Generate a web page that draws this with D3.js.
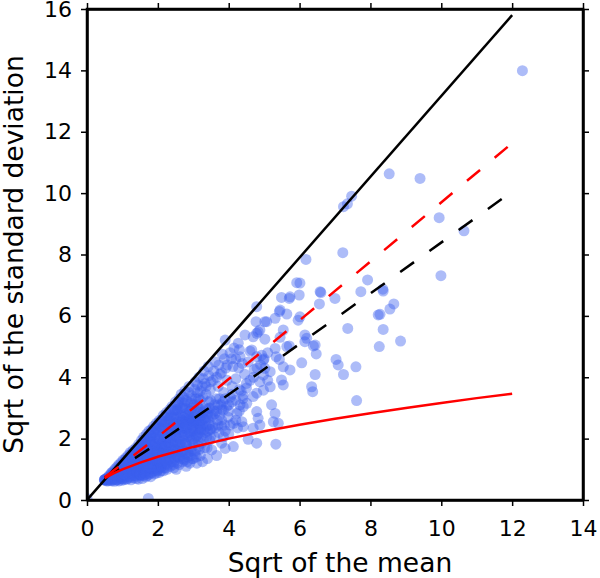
<!DOCTYPE html>
<html>
<head>
<meta charset="utf-8">
<script src="https://cdn.jsdelivr.net/npm/d3@7"></script>
<style>
	body { margin: 0; background: #fff; }
	text { font-family: "DejaVu Sans", sans-serif; fill: #000; }
	.axis path, .axis line { stroke: #000; }
	.axis path { stroke-width: 2.5; }
	.axis line { stroke-width: 1.5; }
	.axis text { font-size: 22px; }
	.label { font-size: 26.5px; }
</style>
</head>
<body>
<script>
/* Data (sqrt of mean, sqrt of std dev) */

var X_TICKS = [0, 2, 4, 6, 8, 10, 12, 14],
	Y_TICKS = [0, 2, 4, 6, 8, 10, 12, 14, 16];

var X_LABEL = "Sqrt of the mean",
	Y_LABEL = "Sqrt of the standard deviation";

var upperLine  = [[0, 0], [12, 15.8]];
var redDashed  = [[0.5, 0.75], [1, 1.17], [2, 2.06], [4, 3.94], [8, 7.77], [12, 11.63]];
var blackDashed= [[0.5, 0.73], [1, 1.1], [2, 1.85], [4, 3.44], [8, 6.73], [12, 10.05]];
var redCurve   = [[0.5, 0.71], [0.75, 0.87], [1, 1.0], [1.5, 1.22], [2, 1.41], [3, 1.73], [4, 2.0],
				  [5, 2.24], [6, 2.45], [7, 2.65], [8, 2.83], [9, 3.0], [10, 3.16], [11, 3.32], [12, 3.46]];

var points = [
	[0,0.05],[1.73,0.05],
	[0.5,0.66],[0.5,0.66],[0.51,0.67],[0.5,0.65],[0.52,0.66],[0.49,0.66],
	[0.55,0.62],[0.56,0.72],[0.58,0.68],[0.6,0.75],[0.6,0.62],[0.63,0.8],[0.65,0.66],[0.66,0.72],[0.68,0.86],
	[0.7,0.62],[0.7,0.9],[0.72,0.74],[0.74,0.66],[0.75,0.95],[0.76,0.82],[0.78,0.61],[0.8,0.72],[0.8,1.02],
	[0.82,0.9],[0.84,0.65],[0.85,1.08],[0.86,0.78],[0.88,0.95],[0.9,0.62],[0.9,1.15],[0.92,0.85],[0.94,0.7],
	[0.95,1.0],[0.96,1.22],[0.98,0.64],[0.99,0.9],
	[0.57,0.64],[0.59,0.7],[0.62,0.68],[0.64,0.74],[0.67,0.64],[0.69,0.78],[0.71,0.7],[0.73,0.84],[0.77,0.7],
	[0.79,0.88],[0.81,0.66],[0.83,0.78],[0.87,0.68],[0.89,0.82],[0.91,1.05],[0.93,0.75],[0.97,0.84],[0.97,1.1],
	[0.99,0.7],[0.93,0.95],
	[1.0,0.76],[1.01,1.1],[1.02,1.3],[1.04,0.66],[1.05,0.95],[1.06,1.2],[1.08,0.8],[1.1,1.38],[1.1,1.02],
	[1.12,0.68],[1.13,0.9],[1.15,1.25],[1.16,1.45],[1.18,0.75],[1.2,1.1],[1.2,0.95],[1.22,1.55],[1.24,0.66],
	[1.25,1.3],[1.26,0.85],[1.28,1.15],[1.3,1.62],[1.3,1.0],[1.32,0.72],[1.34,1.4],[1.35,1.22],[1.36,0.9],
	[1.38,1.7],[1.4,1.05],[1.4,0.78],[1.42,1.5],[1.44,1.3],[1.45,0.68],[1.46,1.82],[1.48,1.15],[1.48,0.95],[1.5,1.6],
	[1.02,0.85],[1.03,0.7],[1.05,1.05],[1.07,1.3],[1.09,0.9],[1.11,1.15],[1.12,0.78],[1.14,1.05],[1.17,1.35],
	[1.19,0.85],[1.21,1.25],[1.23,1.0],[1.23,0.74],[1.27,1.45],[1.27,0.95],[1.29,1.25],[1.31,0.85],[1.33,1.1],
	[1.33,1.55],[1.37,1.3],[1.37,1.0],[1.39,0.7],[1.41,1.2],[1.41,1.65],[1.43,0.88],[1.45,1.4],[1.47,1.05],
	[1.47,1.7],[1.49,0.8],[1.49,1.3],[1.15,0.7],[1.18,1.02],[1.26,1.1],[1.35,0.8],[1.44,1.02],
	[1.52,0.82],[1.53,1.35],[1.54,1.95],[1.55,1.05],[1.56,0.7],[1.58,1.5],[1.6,1.2],[1.6,2.05],[1.62,0.9],
	[1.63,1.7],[1.65,1.35],[1.66,0.75],[1.68,2.15],[1.7,1.05],[1.7,1.55],[1.72,1.85],[1.74,0.88],[1.75,2.25],
	[1.76,1.25],[1.78,1.65],[1.8,0.76],[1.8,1.45],[1.82,2.3],[1.84,1.0],[1.85,1.9],[1.86,1.3],[1.88,2.4],
	[1.9,0.85],[1.9,1.6],[1.92,1.15],[1.94,2.05],[1.95,1.75],[1.96,2.5],[1.98,0.95],[1.99,1.4],
	[1.51,1.1],[1.52,1.7],[1.54,1.25],[1.55,0.8],[1.57,1.85],[1.57,1.4],[1.59,1.0],[1.61,1.6],[1.61,0.8],
	[1.64,1.2],[1.64,1.95],[1.66,1.45],[1.67,0.95],[1.69,1.75],[1.69,1.25],[1.71,0.8],[1.73,1.4],[1.73,2.05],
	[1.75,1.05],[1.77,1.55],[1.77,0.85],[1.79,1.9],[1.79,1.2],[1.81,1.65],[1.83,0.9],[1.83,2.1],[1.85,1.35],
	[1.87,1.1],[1.87,1.75],[1.89,2.2],[1.91,1.4],[1.91,0.95],[1.93,1.85],[1.93,1.25],[1.95,2.3],[1.97,1.55],
	[1.97,1.05],[1.99,2.0],[1.99,1.7],[1.96,0.88],
	[2.0,1.2],[2.0,2.2],[2.02,1.85],[2.04,0.9],[2.05,2.6],[2.06,1.55],[2.08,1.05],[2.1,2.35],[2.1,1.35],
	[2.12,1.7],[2.14,2.0],[2.15,2.75],[2.16,0.95],[2.18,1.45],[2.2,2.5],[2.2,1.15],[2.22,1.9],[2.24,2.85],
	[2.25,1.6],[2.26,1.0],[2.28,2.2],[2.3,1.3],[2.3,2.6],[2.32,1.75],[2.34,2.95],[2.35,1.1],[2.36,2.1],
	[2.38,1.5],[2.4,2.4],[2.4,3.05],[2.42,1.85],[2.44,1.15],[2.45,2.7],[2.46,1.35],[2.48,2.25],[2.5,3.2],[2.5,1.65],
	[2.01,1.45],[2.03,1.05],[2.03,2.4],[2.05,1.75],[2.07,1.3],[2.07,2.1],[2.09,0.95],[2.11,1.55],[2.11,2.55],
	[2.13,1.2],[2.13,1.85],[2.15,2.3],[2.17,1.05],[2.17,1.65],[2.19,2.05],[2.19,2.7],[2.21,1.35],[2.23,1.75],
	[2.23,1.05],[2.25,2.35],[2.27,1.5],[2.27,2.0],[2.29,1.15],[2.31,2.45],[2.31,1.85],[2.33,1.4],[2.35,2.25],
	[2.37,1.7],[2.37,2.75],[2.39,1.25],[2.41,2.05],[2.41,1.5],[2.43,2.55],[2.45,1.95],[2.45,1.05],[2.47,2.9],
	[2.47,1.75],[2.49,2.4],[2.49,1.4],[2.35,2.55],
	[2.52,1.0],[2.53,2.05],[2.55,2.9],[2.56,1.4],[2.58,2.45],[2.6,1.15],[2.6,3.3],[2.62,1.8],[2.64,2.65],
	[2.65,1.55],[2.66,3.45],[2.68,2.2],[2.7,1.25],[2.7,3.0],[2.72,1.95],[2.74,2.5],[2.75,1.6],[2.76,3.55],
	[2.78,2.8],[2.8,1.1],[2.8,2.3],[2.82,1.75],[2.84,3.2],[2.85,1.4],[2.86,2.6],[2.88,3.7],[2.9,2.05],
	[2.9,1.2],[2.92,2.9],[2.94,1.6],[2.95,3.4],[2.96,2.35],[2.98,1.85],[3.0,2.7],
	[2.51,2.2],[2.51,1.5],[2.53,2.7],[2.55,1.2],[2.55,1.85],[2.57,2.3],[2.57,3.1],[2.59,1.65],[2.61,2.55],
	[2.61,2.0],[2.63,1.35],[2.63,2.85],[2.65,2.3],[2.67,1.75],[2.67,2.6],[2.69,1.45],[2.69,3.2],[2.71,2.1],
	[2.73,2.7],[2.73,1.35],[2.75,2.35],[2.77,1.85],[2.77,3.0],[2.79,2.55],[2.79,1.5],[2.81,2.05],[2.83,2.75],
	[2.83,1.25],[2.85,2.2],[2.87,1.65],[2.87,2.95],[2.89,2.45],[2.91,1.45],[2.91,2.65],[2.93,2.15],[2.93,3.15],
	[2.95,1.95],[2.97,2.55],[2.97,1.35],[2.99,2.25],
	[3.0,1.35],[3.02,3.1],[3.04,2.2],[3.05,3.85],[3.06,1.6],[3.08,2.5],[3.1,1.2],[3.1,2.9],[3.12,3.5],
	[3.14,1.9],[3.15,2.3],[3.16,4.0],[3.18,2.7],[3.2,1.45],[3.2,3.25],[3.22,2.05],[3.24,2.55],[3.25,3.7],
	[3.26,1.25],[3.28,2.85],[3.3,2.3],[3.3,4.2],[3.32,1.7],[3.34,3.0],[3.35,2.6],[3.36,3.45],[3.38,2.05],
	[3.4,1.35],[3.4,2.8],[3.42,4.35],[3.44,3.2],[3.45,2.45],[3.46,1.95],[3.48,3.6],[3.5,2.7],
	[3.01,2.45],[3.03,1.85],[3.05,2.75],[3.07,2.05],[3.07,3.3],[3.09,1.4],[3.11,2.6],[3.13,2.15],[3.13,3.05],
	[3.17,2.45],[3.17,1.65],[3.19,2.95],[3.21,2.3],[3.23,1.85],[3.23,2.75],[3.27,2.45],[3.27,3.35],[3.29,2.0],
	[3.31,2.65],[3.33,2.2],[3.33,3.8],[3.37,2.4],[3.37,2.95],[3.39,1.7],[3.41,2.25],[3.43,2.6],[3.45,3.0],
	[3.47,2.3],[3.49,2.05],[3.49,3.25],
	[1.05,0.85],[1.1,1.2],[1.15,0.95],[1.2,1.4],[1.25,1.05],[1.3,0.8],[1.3,1.35],[1.35,1.55],[1.4,0.95],
	[1.4,1.4],[1.45,1.15],[1.5,0.85],[1.5,1.45],[1.55,1.6],[1.6,1.05],[1.6,1.4],[1.65,0.85],[1.65,1.8],
	[1.7,1.2],[1.7,1.4],[1.75,1.6],[1.8,1.05],[1.8,2.0],[1.85,1.2],[1.85,1.5],[1.9,1.8],[1.9,1.05],
	[1.95,1.3],[2.0,1.6],[2.0,1.0],[2.05,2.0],[2.05,1.25],[2.1,1.8],[2.1,1.1],[2.15,1.5],[2.15,2.15],
	[2.2,1.3],[2.2,1.75],[2.25,2.05],[2.25,1.2],[2.3,1.55],[2.3,2.3],[2.35,1.35],[2.35,1.9],[2.4,2.2],
	[2.4,1.6],[2.45,1.25],[2.45,2.45],[2.5,1.85],[2.5,2.1],[2.55,1.6],[2.55,2.55],[2.6,1.4],[2.6,2.2],
	[2.65,1.9],[2.65,2.75],[2.7,1.6],[2.7,2.35],[2.75,2.1],[2.75,1.3],[2.8,2.65],[2.8,1.85],[2.85,2.4],
	[2.85,1.55],[2.9,2.2],[2.9,2.9],[2.95,1.7],[2.95,2.6],[3.0,2.0],[3.0,2.35],[3.05,1.5],[3.05,2.6],
	[3.1,2.1],[3.1,3.1],[3.15,1.75],[3.15,2.5],[3.2,2.35],[3.2,2.85],[1.25,1.5],[1.45,1.6],[1.6,1.75],
	[1.75,1.9],[1.95,2.15],[2.15,2.4],[2.35,2.7],[2.55,2.95],[2.75,3.15],[2.95,3.0],[3.15,3.3],
	[1.55,1.8],[1.62,1.9],[1.7,2.0],[1.78,2.1],[1.86,2.2],[1.94,2.35],[2.02,2.5],[2.1,2.6],[2.18,2.45],
	[2.26,2.75],[2.33,2.65],[2.42,2.9],[2.5,2.95],[2.58,3.2],[2.64,3.0],[2.72,3.35],[2.8,3.25],[2.88,3.5],
	[2.96,3.3],[3.04,3.6],[3.12,3.75],[3.2,3.55],[3.28,3.95],[3.36,3.7],[3.44,4.05],[3.5,3.85],[3.58,4.2],
	[3.66,4.0],[3.72,4.4],[3.8,4.15],[3.88,4.6],[3.96,4.4],[4.04,4.8],[4.12,4.35],[4.2,4.6],[4.3,4.9],[4.38,4.45],
	[2.6,2.4],[2.7,2.55],[2.8,2.45],[2.9,2.7],[3.0,2.55],[3.1,2.75],[3.2,2.6],[3.3,2.9],[3.4,2.7],[3.5,3.0],
	[3.6,2.8],[3.7,3.1],[3.8,2.95],[3.9,3.3],[4.0,3.1],[4.1,3.45],[4.2,3.25],[4.3,3.6],[4.4,3.4],[4.5,3.65],
	[4.6,3.9],[4.7,4.0],[4.8,4.3],[4.9,4.4],[5.0,4.6],[5.1,4.8],[3.2,2.2],[3.5,2.3],[3.8,2.4],[4.0,2.15],[4.25,2.35],
	[3.52,1.63],[3.55,2.4],[3.56,3.9],[3.58,2.9],[3.6,2.06],[3.62,4.5],[3.64,3.3],[3.66,1.45],[3.68,2.6],
	[3.7,3.7],[3.72,2.2],[3.75,2.77],[3.76,4.1],[3.78,3.1],[3.8,1.85],[3.82,4.75],[3.85,2.93],[3.85,2.06],
	[3.86,3.5],[3.88,2.45],[3.9,1.68],[3.9,5.21],[3.92,4.3],[3.95,3.9],[3.98,2.7],
	[3.54,2.75],[3.6,3.1],[3.62,2.35],[3.66,2.9],[3.7,2.45],[3.74,3.3],[3.8,2.6],[3.84,3.2],[3.9,2.25],
	[3.94,3.05],[4.0,2.9],[4.1,3.2],[4.2,2.6],[4.3,2.9],[4.4,3.3],
	[4.04,2.44],[4.05,3.35],[4.08,4.6],[4.1,3.7],[4.13,2.5],[4.13,1.74],[4.15,4.95],[4.2,3.95],[4.23,2.82],
	[4.27,5.11],[4.28,4.3],[4.32,3.1],[4.32,4.67],[4.35,3.55],[4.37,2.55],[4.41,3.04],[4.41,2.39],[4.45,4.1],
	[4.46,5.38],[4.5,3.8],
	[4.51,3.15],[4.55,1.98],[4.55,4.5],[4.6,4.85],[4.65,4.89],[4.69,3.37],[4.69,2.34],[4.69,5.32],[4.72,4.25],
	[4.77,5.81],[4.79,3.48],[4.79,2.88],[4.79,1.85],[4.79,4.67],[4.79,5.43],[4.79,6.3],[4.83,2.66],[4.83,5.48],
	[4.88,2.44],[4.88,5.54],[4.88,3.85],[4.93,4.72],[4.98,3.58],[4.98,4.07],[4.98,4.56],
	[5.02,5.81],[5.02,5.24],[5.02,4.29],[5.07,5.81],[5.1,3.9],[5.17,4.18],[5.17,3.69],[5.21,3.1],[5.26,2.55],
	[5.31,5.92],[5.31,4.94],[5.31,2.82],[5.33,1.82],[5.34,4.67],[5.4,2.5],[5.43,6.14],[5.43,4.58],[5.45,5.3],
	[5.45,6.19],[5.49,6.6],[5.49,3.91],
	[5.54,5.54],[5.54,4.34],[5.54,3.75],[5.64,6.06],[5.64,5.0],[5.71,6.57],[5.71,5.02],[5.73,4.24],[5.73,6.62],
	[5.92,7.08],[5.96,5.86],[5.99,6.68],[6.01,5.97],[6.01,7.07],[6.06,4.47],
	[6.15,5.38],[6.15,5.16],[6.18,7.84],[6.2,5.27],[6.34,3.69],[6.37,3.53],[6.39,5.02],[6.44,5.05],[6.44,4.09],
	[6.47,4.76],[6.56,6.39],[6.58,6.79],[6.6,6.76],[7.0,6.57],[7.03,4.58],[7.09,4.4],[7.22,8.06],[7.24,9.56],
	[7.24,4.09],[7.35,9.65],[7.36,5.59],[7.47,9.9],[7.59,4.34],[7.61,3.24],[7.73,6.79],[7.92,7.17],[8.22,6.03],
	[8.25,5.0],[8.27,6.05],[8.35,6.87],[8.36,5.56],[8.36,6.81],[8.53,10.63],[8.55,6.22],[8.66,6.39],[8.85,5.18],
	[9.4,10.48],[9.94,9.2],[9.99,7.31],[10.64,8.77],[12.29,13.99]
];

/* Measures */

var W = 600,
	H = 578;

var PLOT = { left: 87, right: 583, top: 9, bottom: 500 };

var TICK_SIZE    = 6,
	DOT_RADIUS   = 5.5,
	DOT_OPACITY  = 0.42,
	DOT_COLOR    = "#3b60ee",
	LINE_WIDTH   = 2.5,
	DASH         = "17,19";

var svg = d3.select("body").append("svg")
	.attr("width", W)
	.attr("height", H);

var x = d3.scaleLinear().domain([0, 14]).range([PLOT.left, PLOT.right]),
	y = d3.scaleLinear().domain([0, 16]).range([PLOT.bottom, PLOT.top]);

svg.append("defs").append("clipPath")
	.attr("id", "plotArea")
	.append("rect")
	.attr("x", PLOT.left)
	.attr("y", PLOT.top)
	.attr("width", PLOT.right - PLOT.left)
	.attr("height", PLOT.bottom - PLOT.top);

var plot = svg.append("g").attr("clip-path", "url(#plotArea)");

plot.selectAll("circle")
	.data(points)
	.enter().append("circle")
	.attr("cx", function(d) { return x(d[0]); })
	.attr("cy", function(d) { return y(d[1]); })
	.attr("r", DOT_RADIUS)
	.attr("fill", DOT_COLOR)
	.attr("fill-opacity", DOT_OPACITY);

var line = d3.line()
	.x(function(d) { return x(d[0]); })
	.y(function(d) { return y(d[1]); });

plot.selectAll("path.curve")
	.data([
		{ values: upperLine,   color: "#000", dash: null },
		{ values: blackDashed, color: "#000", dash: DASH },
		{ values: redDashed,   color: "#f00", dash: DASH },
		{ values: redCurve,    color: "#f00", dash: null }
	])
	.enter().append("path")
	.classed("curve", true)
	.attr("d", function(d) { return line(d.values); })
	.attr("fill", "none")
	.attr("stroke", function(d) { return d.color; })
	.attr("stroke-width", LINE_WIDTH)
	.attr("stroke-dasharray", function(d) { return d.dash; });

/* Axes: labelled bottom/left, bare ticks top/right */

svg.append("g")
	.attr("class", "axis")
	.attr("transform", "translate(0," + PLOT.bottom + ")")
	.call(d3.axisBottom(x).tickValues(X_TICKS).tickSize(TICK_SIZE).tickPadding(14).tickSizeOuter(0));

svg.append("g")
	.attr("class", "axis")
	.attr("transform", "translate(" + PLOT.left + ",0)")
	.call(d3.axisLeft(y).tickValues(Y_TICKS).tickSize(TICK_SIZE).tickPadding(9).tickSizeOuter(0));

svg.append("g")
	.attr("class", "axis")
	.attr("transform", "translate(0," + PLOT.top + ")")
	.call(d3.axisTop(x).tickValues(X_TICKS).tickSize(TICK_SIZE).tickSizeOuter(0).tickFormat(""));

svg.append("g")
	.attr("class", "axis")
	.attr("transform", "translate(" + PLOT.right + ",0)")
	.call(d3.axisRight(y).tickValues(Y_TICKS).tickSize(TICK_SIZE).tickSizeOuter(0).tickFormat(""));

svg.append("rect")
	.attr("x", PLOT.left)
	.attr("y", PLOT.top)
	.attr("width", PLOT.right - PLOT.left)
	.attr("height", PLOT.bottom - PLOT.top)
	.attr("fill", "none")
	.attr("stroke", "#000")
	.attr("stroke-width", 2.5);

svg.append("text")
	.attr("class", "label")
	.attr("x", (PLOT.left + PLOT.right) / 2 + 5)
	.attr("y", 572)
	.attr("text-anchor", "middle")
	.text(X_LABEL);

svg.append("text")
	.attr("class", "label")
	.attr("transform", "translate(23," + ((PLOT.top + PLOT.bottom) / 2) + ") rotate(-90)")
	.attr("text-anchor", "middle")
	.text(Y_LABEL);
</script>
</body>
</html>
